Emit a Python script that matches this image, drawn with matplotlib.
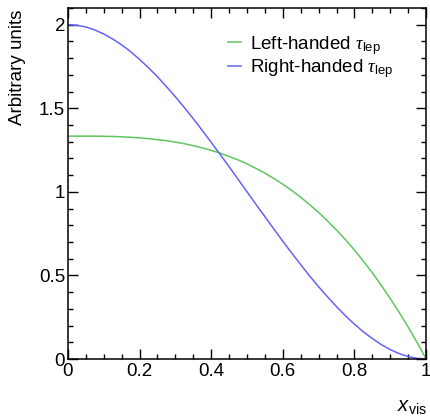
import matplotlib
matplotlib.use("Agg")
import matplotlib.pyplot as plt
from matplotlib.ticker import MultipleLocator, FuncFormatter

# x_vis sampling and curve heights (normalised distributions)
x_vis = [0.000, 0.025, 0.050, 0.075, 0.100, 0.125, 0.150, 0.175, 0.200, 0.225,
         0.250, 0.275, 0.300, 0.325, 0.350, 0.375, 0.400, 0.425, 0.450, 0.475,
         0.500, 0.525, 0.550, 0.575, 0.600, 0.625, 0.650, 0.675, 0.700, 0.725,
         0.750, 0.775, 0.800, 0.825, 0.850, 0.875, 0.900, 0.925, 0.950, 0.975, 1.000]
left_handed = [1.333, 1.333, 1.333, 1.333, 1.332, 1.331, 1.329, 1.326, 1.323, 1.318,
               1.312, 1.306, 1.297, 1.288, 1.276, 1.263, 1.248, 1.231, 1.212, 1.191,
               1.167, 1.140, 1.111, 1.080, 1.045, 1.008, 0.967, 0.923, 0.876, 0.825,
               0.771, 0.713, 0.651, 0.585, 0.515, 0.440, 0.361, 0.278, 0.190, 0.098, 0.000]
right_handed = [2.000, 1.996, 1.986, 1.968, 1.944, 1.914, 1.879, 1.838, 1.792, 1.742,
                1.688, 1.629, 1.568, 1.504, 1.437, 1.367, 1.296, 1.223, 1.150, 1.075,
                1.000, 0.925, 0.851, 0.777, 0.704, 0.633, 0.564, 0.496, 0.432, 0.371,
                0.313, 0.258, 0.208, 0.162, 0.122, 0.086, 0.056, 0.032, 0.015, 0.004, 0.000]
labels = [r"Left-handed $\tau_{\mathrm{lep}}$", r"Right-handed $\tau_{\mathrm{lep}}$"]

plt.rcParams["font.family"] = ["Liberation Sans", "DejaVu Sans"]
plt.rcParams["mathtext.fontset"] = "custom"
plt.rcParams["mathtext.rm"] = "Liberation Sans"
plt.rcParams["mathtext.it"] = "Liberation Serif:italic"
plt.rcParams["mathtext.sf"] = "Liberation Sans:italic"

fs = 13.5
fig = plt.figure(figsize=(4.30, 4.16), dpi=100)
ax = fig.add_axes([0.158, 0.137, 0.833, 0.844])

ax.plot(x_vis, left_handed, color="#5ec75e", lw=1.1, label=labels[0])
ax.plot(x_vis, right_handed, color="#6464fa", lw=1.1, label=labels[1])

ax.set_xlim(0, 1)
ax.set_ylim(0, 2.1)
ax.xaxis.set_major_locator(MultipleLocator(0.2))
ax.xaxis.set_minor_locator(MultipleLocator(0.05))
ax.yaxis.set_major_locator(MultipleLocator(0.5))
ax.yaxis.set_minor_locator(MultipleLocator(0.1))
fmt = FuncFormatter(lambda v, _: "%g" % round(v, 3))
ax.xaxis.set_major_formatter(fmt)
ax.yaxis.set_major_formatter(fmt)
ax.tick_params(which="both", direction="in", top=True, right=True, width=1.0, labelsize=fs)
ax.tick_params(which="major", length=7.5)
ax.tick_params(which="minor", length=3.7)
ax.tick_params(axis="y", pad=2)
ax.tick_params(axis="x", pad=3)
for sp in ax.spines.values():
    sp.set_linewidth(1.1)

ax.legend(loc="upper left", bbox_to_anchor=(0.425, 0.948), frameon=False, fontsize=fs,
          handlelength=0.7, handletextpad=0.5, labelspacing=0.05, borderaxespad=0)

fig.text(18 / 430, 1 - 10 / 416, "Arbitrary units", rotation=90, ha="center", va="top", fontsize=fs)
fig.text(427 / 430, 1 - 411 / 416, r"$\mathsf{x}_{\mathrm{vis}}$", ha="right", va="baseline", fontsize=fs + 1)

fig.savefig("out.png", dpi=100)
plt.close(fig)
